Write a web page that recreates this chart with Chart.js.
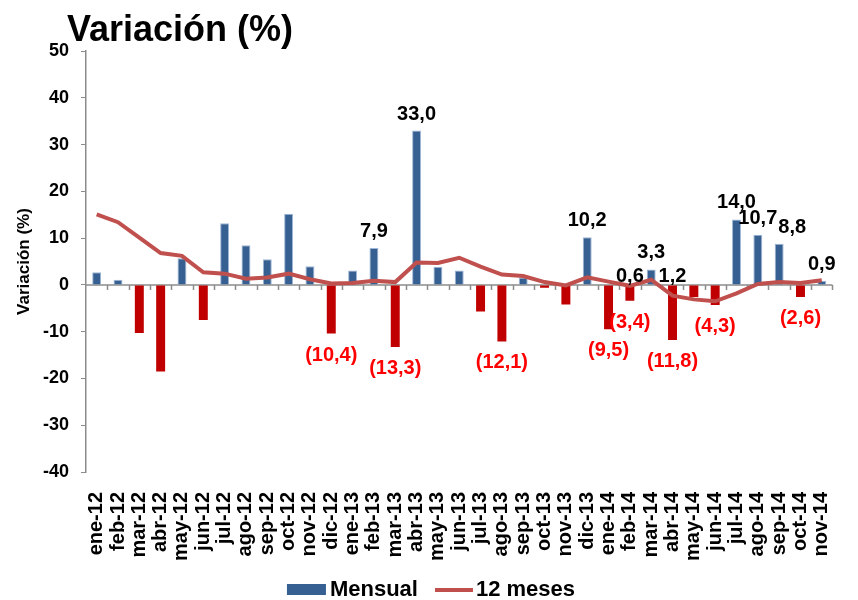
<!DOCTYPE html>
<html lang="es">
<head>
<meta charset="utf-8">
<title>Variación (%)</title>
<script src="https://cdn.jsdelivr.net/npm/chart.js@4.4.1/dist/chart.umd.min.js"></script>
<style>
    html, body { margin: 0; padding: 0; background: #ffffff; }
    #chart-box { width: 858px; height: 600px; }
</style>
</head>
<body>
<div id="chart-box"><canvas id="variacionChart" width="858" height="600"></canvas></div>
<script>
const meses = [
    "ene-12", "feb-12", "mar-12", "abr-12", "may-12", "jun-12", "jul-12", "ago-12", "sep-12", "oct-12", "nov-12", "dic-12",
    "ene-13", "feb-13", "mar-13", "abr-13", "may-13", "jun-13", "jul-13", "ago-13", "sep-13", "oct-13", "nov-13", "dic-13",
    "ene-14", "feb-14", "mar-14", "abr-14", "may-14", "jun-14", "jul-14", "ago-14", "sep-14", "oct-14", "nov-14"
];

const mensual = [
    2.7, 1.1, -10.3, -18.5, 5.7, -7.5, 13.2, 8.5, 5.5, 15.2, 4.0, -10.4,
    3.1, 7.9, -13.3, 33.0, 3.9, 3.1, -5.7, -12.1, 1.6, -0.6, -4.2, 10.2,
    -9.5, -3.4, 3.3, -11.8, -2.6, -4.3, 14.0, 10.7, 8.8, -2.6, 0.9
];

const doceMeses = [
    15.1, 13.4, 10.1, 6.8, 6.2, 2.7, 2.4, 1.3, 1.6, 2.4, 1.2, 0.3,
    0.4, 0.9, 0.6, 4.8, 4.7, 5.8, 3.9, 2.2, 1.9, 0.6, -0.1, 1.6,
    0.7, -0.2, 1.1, -2.3, -3.1, -3.5, -1.8, 0.2, 0.6, 0.4, 1.0
];

const ticksY = [-40, -30, -20, -10, 0, 10, 20, 30, 40, 50];

// meses cuyo valor mensual lleva etiqueta
const mesesConEtiqueta = [
    "dic-12", "feb-13", "mar-13", "abr-13", "ago-13", "dic-13", "ene-14", "feb-14",
    "mar-14", "abr-14", "jun-14", "jul-14", "ago-14", "sep-14", "oct-14", "nov-14"
];

// etiquetas sueltas sobre la línea de cero
const mesesExtra = ["feb-14", "abr-14"];
const textosExtra = ["0,6", "1,2"];

const FUENTE = "'Liberation Sans', Arial, sans-serif";
const AZUL = "#376092";
const ROJO = "#c00000";
const GRIS = "#8c8c8c";

function formato(v) {
    const t = Math.abs(v).toFixed(1).replace(".", ",");
    return v < 0 ? "(" + t + ")" : t;
}

const tituloPlugin = {
    id: "titulo",
    afterDraw(chart) {
        const ctx = chart.ctx;
        ctx.save();
        ctx.font = "bold 36px " + FUENTE;
        ctx.fillStyle = "#000";
        ctx.textAlign = "left";
        ctx.textBaseline = "alphabetic";
        ctx.fillText("Variación (%)", 67, 41);
        ctx.restore();
    }
};

const ejeCeroPlugin = {
    id: "ejeCero",
    beforeDatasetsDraw(chart) {
        const ctx = chart.ctx;
        const x = chart.scales.x;
        const y0 = chart.scales.y.getPixelForValue(0);
        ctx.save();
        ctx.strokeStyle = GRIS;
        ctx.lineWidth = 1.5;
        ctx.beginPath();
        ctx.moveTo(chart.chartArea.left, y0);
        ctx.lineTo(chart.chartArea.right, y0);
        for (let i = 1; i <= meses.length; i++) {
            const px = Math.round(x.getPixelForValue(i - 0.5)) + 0.5;
            ctx.moveTo(px, y0);
            ctx.lineTo(px, y0 + 5);
        }
        ctx.stroke();
        ctx.restore();
    }
};

const etiquetasPlugin = {
    id: "etiquetas",
    afterDatasetsDraw(chart) {
        const ctx = chart.ctx;
        const meta = chart.getDatasetMeta(0);
        const y0 = chart.scales.y.getPixelForValue(0);
        ctx.save();
        ctx.font = "bold 20px " + FUENTE;
        ctx.textAlign = "center";
        ctx.textBaseline = "alphabetic";

        let previa = null;
        meses.forEach((mes, i) => {
            if (!mesesConEtiqueta.includes(mes)) return;
            const v = mensual[i];
            const bar = meta.data[i];
            const texto = formato(v);
            const w = ctx.measureText(texto).width;
            const base = v >= 0 ? bar.y - 11 : bar.y + 27;
            let x = bar.x;
            const caja = { l: x - w / 2, r: x + w / 2, t: base - 15, b: base };
            // si choca con la anterior, se corre a la derecha
            if (previa && caja.l < previa.r && caja.t < previa.b && caja.b > previa.t) {
                x = previa.r + 1 + w / 2;
                caja.l = x - w / 2;
                caja.r = x + w / 2;
            }
            ctx.fillStyle = v >= 0 ? "#000000" : "#ff0000";
            ctx.fillText(texto, x, base);
            previa = caja;
        });

        ctx.fillStyle = "#000000";
        mesesExtra.forEach((mes, k) => {
            const bar = meta.data[meses.indexOf(mes)];
            ctx.fillText(textosExtra[k], bar.x, y0 - 3);
        });
        ctx.restore();
    }
};

const leyendaPlugin = {
    id: "leyenda",
    afterDraw(chart) {
        const ctx = chart.ctx;
        const barras = chart.data.datasets[0];
        const linea = chart.data.datasets[1];
        ctx.save();
        ctx.font = "bold 22px " + FUENTE;
        ctx.textBaseline = "middle";
        ctx.textAlign = "left";
        const w1 = ctx.measureText(barras.label).width;
        const w2 = ctx.measureText(linea.label).width;
        const total = 39 + 4 + w1 + 17 + 38 + 3 + w2;
        let x = chart.width / 2 - total / 2 + 2;
        const y = 590;

        ctx.fillStyle = AZUL;
        ctx.fillRect(x, y - 6, 39, 11);
        x += 43;
        ctx.fillStyle = "#000";
        ctx.fillText(barras.label, x, y);
        x += w1 + 17;

        ctx.strokeStyle = linea.borderColor;
        ctx.lineWidth = 4;
        ctx.beginPath();
        ctx.moveTo(x, y);
        ctx.lineTo(x + 38, y);
        ctx.stroke();
        x += 41;
        ctx.fillText(linea.label, x, y);
        ctx.restore();
    }
};

const ctx = document.getElementById("variacionChart").getContext("2d");

const chart = new Chart(ctx, {
    type: "bar",
    data: {
        labels: meses,
        datasets: [
            {
                type: "bar",
                label: "Mensual",
                data: mensual,
                order: 1,
                backgroundColor: c => (c.raw < 0 ? ROJO : AZUL),
                borderColor: c => (c.raw < 0 ? ROJO : "#9fb6d6"),
                borderWidth: c => (c.raw < 0 ? 0 : 1),
                borderSkipped: "bottom",
                barPercentage: 0.42,
                categoryPercentage: 1.0
            },
            {
                type: "line",
                label: "12 meses",
                data: doceMeses,
                order: 0,
                borderColor: "#c0504d",
                borderWidth: 4,
                pointRadius: 0,
                tension: 0,
                fill: false
            }
        ]
    },
    options: {
        responsive: false,
        animation: false,
        devicePixelRatio: 1,
        layout: {
            padding: { top: 51, right: 13, bottom: 0, left: 0 }
        },
        plugins: {
            legend: { display: false },
            title: { display: false },
            tooltip: { enabled: false }
        },
        scales: {
            x: {
                grid: { display: false },
                border: { display: false },
                ticks: {
                    autoSkip: false,
                    minRotation: 90,
                    maxRotation: 90,
                    padding: 12,
                    color: "#000",
                    font: { family: FUENTE, size: 20, weight: "bold" }
                },
                afterFit(scale) {
                    scale.height = 128;
                }
            },
            y: {
                min: ticksY[0],
                max: ticksY[ticksY.length - 1],
                ticks: {
                    stepSize: ticksY[1] - ticksY[0],
                    padding: 12,
                    color: "#000",
                    font: { family: FUENTE, size: 18, weight: "bold" }
                },
                grid: {
                    drawOnChartArea: false,
                    drawTicks: true,
                    tickLength: 5,
                    color: GRIS
                },
                border: { display: true, color: GRIS, width: 1.5 },
                title: {
                    display: true,
                    text: "Variación (%)",
                    color: "#000",
                    padding: { top: 14, bottom: 0 },
                    font: { family: FUENTE, size: 17, weight: "bold" }
                },
                afterFit(scale) {
                    scale.width = 86;
                }
            }
        }
    },
    plugins: [ejeCeroPlugin, etiquetasPlugin, tituloPlugin, leyendaPlugin]
});
</script>
</body>
</html>
